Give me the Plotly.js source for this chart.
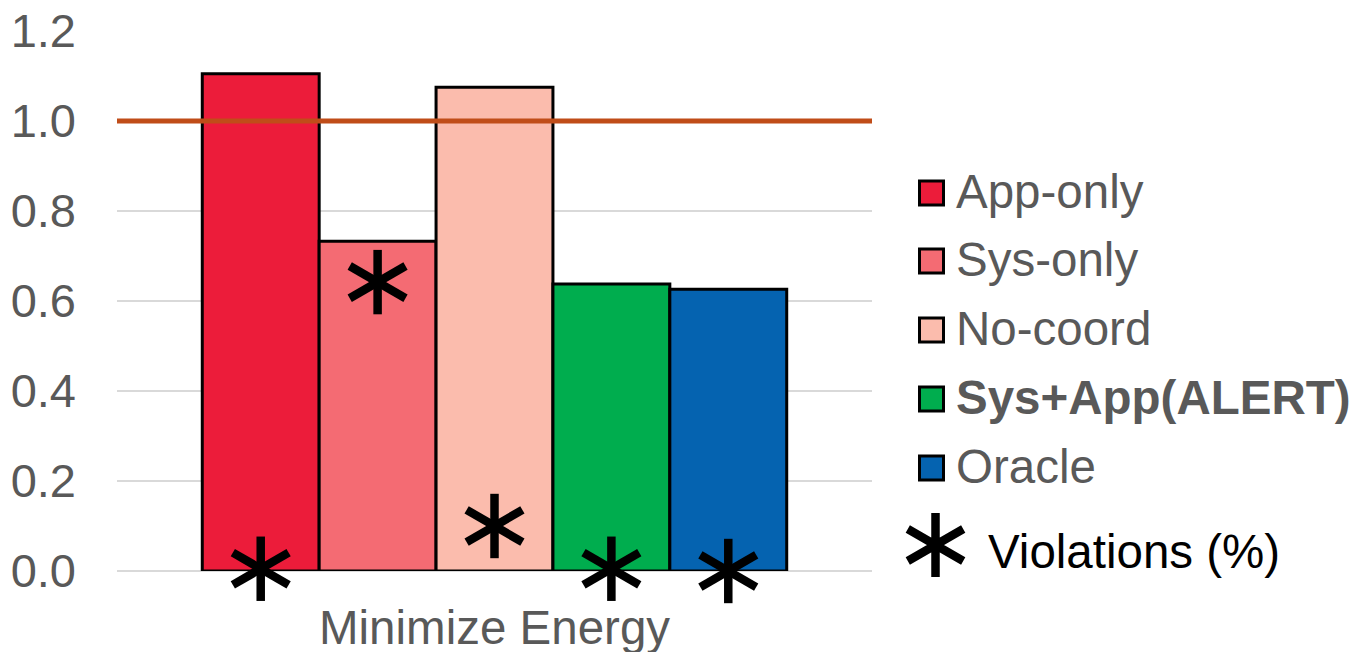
<!DOCTYPE html>
<html>
<head>
<meta charset="utf-8">
<script src="https://cdn.plot.ly/plotly-3.0.1.min.js"></script>
<style>
  html, body { margin: 0; padding: 0; background: #ffffff; }
  #chart { width: 1358px; height: 652px; }
</style>
</head>
<body>
<div id="chart"></div>
<script>
// Normalized energy for the "Minimize Energy" goal, one bar per scheme
const category = 'Minimize Energy';
const methods = ['App-only', 'Sys-only', 'No-coord', 'Sys+App(ALERT)', 'Oracle'];
const energy = [1.105, 0.733, 1.075, 0.638, 0.626];
const violations = [0.005, 0.642, 0.10, 0.005, 0.0];
const colors = ['#EC1C3A', '#F46B73', '#FBBCAD', '#00AD4E', '#0563B0'];
const baseline = 1.0;
const violationLabel = 'Violations (%)';

const W = 1358, H = 652;
const M = { l: 117, r: 486, t: 31, b: 81 };
const plotW = W - M.l - M.r, plotH = H - M.t - M.b;
const px = x => (x - M.l) / plotW;
const py = y => 1 - (y - M.t) / plotH;

const FONT = 'Liberation Sans, Arial, sans-serif';
const GREY = '#595959';

const idx = methods.map((_, i) => i);

const bars = {
  type: 'bar',
  x: idx,
  y: energy,
  width: 1,
  marker: { color: colors, line: { color: '#000000', width: 3 } },
  hoverinfo: 'skip',
  showlegend: false
};

// six-armed asterisk: one stroke, rotated three ways
const asteriskTraces = [0, 60, 120].map(a => ({
  type: 'scatter',
  mode: 'markers',
  x: idx,
  y: violations,
  cliponaxis: false,
  marker: {
    symbol: 'line-ns-open',
    size: 46,
    angle: a,
    color: '#000000',
    line: { color: '#000000', width: 8.5 }
  },
  hoverinfo: 'skip',
  showlegend: false
}));

const shapes = [{
  type: 'line', xref: 'paper', yref: 'y',
  x0: 0, x1: 1, y0: baseline, y1: baseline,
  line: { color: '#C04D19', width: 5 },
  layer: 'above'
}];
const annotations = [];

// legend block on the right
const legendX = 931.5, legendTextX = 954;
const legendY = [193, 261, 330, 399, 468];
methods.forEach((m, i) => {
  shapes.push({
    type: 'rect', xref: 'paper', yref: 'paper',
    xsizemode: 'pixel', ysizemode: 'pixel',
    xanchor: px(legendX), yanchor: py(legendY[i]),
    x0: -12, x1: 12, y0: -12, y1: 12,
    fillcolor: colors[i],
    line: { color: '#000000', width: 3 }
  });
  annotations.push({
    xref: 'paper', yref: 'paper',
    x: px(legendTextX), y: py(legendY[i] - 2),
    xanchor: 'left', yanchor: 'middle',
    showarrow: false,
    text: i === 3 ? '<b>' + m + '</b>' : m,
    font: { family: FONT, size: 47.5, color: GREY }
  });
});

// legend asterisk drawn as a pixel path
const ax = 935.5, ay = 545, R = 32;
const dx = (R * Math.cos(Math.PI / 6)).toFixed(2), dy = (R * Math.sin(Math.PI / 6)).toFixed(2);
shapes.push({
  type: 'path', xref: 'paper', yref: 'paper',
  xsizemode: 'pixel', ysizemode: 'pixel',
  xanchor: px(ax), yanchor: py(ay),
  path: `M0,${-R} L0,${R} M${-dx},${-dy} L${dx},${dy} M${-dx},${dy} L${dx},${-dy}`,
  line: { color: '#000000', width: 8.5 }
});
annotations.push({
  xref: 'paper', yref: 'paper',
  x: px(986), y: py(551),
  xanchor: 'left', yanchor: 'middle',
  showarrow: false,
  text: violationLabel,
  font: { family: FONT, size: 47.5, color: '#000000' }
});

const layout = {
  width: W, height: H,
  margin: M,
  paper_bgcolor: '#ffffff',
  plot_bgcolor: '#ffffff',
  showlegend: false,
  font: { family: FONT, color: GREY },
  xaxis: {
    range: [-1.2296, 5.2296],
    tickmode: 'array',
    tickvals: [(methods.length - 1) / 2],
    ticktext: [category],
    tickfont: { family: FONT, size: 47.5, color: GREY },
    showgrid: false, zeroline: false, showline: false,
    ticks: '', ticklabelstandoff: 24,
    fixedrange: true
  },
  yaxis: {
    range: [0, 1.2],
    dtick: 0.2,
    tickformat: '.1f',
    tickfont: { family: FONT, size: 47, color: GREY },
    showgrid: true, gridcolor: '#D9D9D9', gridwidth: 2,
    zeroline: true, zerolinecolor: '#D9D9D9', zerolinewidth: 2,
    showline: false, ticks: '', ticklabelstandoff: 40,
    fixedrange: true
  },
  shapes: shapes,
  annotations: annotations
};

Plotly.newPlot('chart', [bars, ...asteriskTraces], layout, { staticPlot: true, displayModeBar: false });
</script>
</body>
</html>
